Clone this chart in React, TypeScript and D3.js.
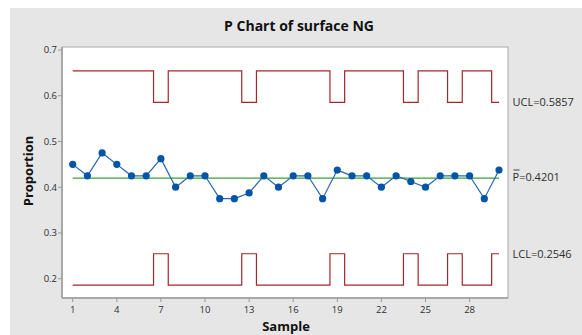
import React from "react";
import * as d3 from "d3";

const samples = d3.range(1, 31);
const proportions = [
  0.45, 0.425, 0.475, 0.45, 0.425, 0.425, 0.4625, 0.4, 0.425, 0.425,
  0.375, 0.375, 0.3875, 0.425, 0.4, 0.425, 0.425, 0.375, 0.4375, 0.425,
  0.425, 0.4, 0.425, 0.4125, 0.4, 0.425, 0.425, 0.425, 0.375, 0.4375,
];
const uclValues = [
  0.6542, 0.6542, 0.6542, 0.6542, 0.6542, 0.6542, 0.5857, 0.6542, 0.6542, 0.6542,
  0.6542, 0.6542, 0.5857, 0.6542, 0.6542, 0.6542, 0.6542, 0.6542, 0.5857, 0.6542,
  0.6542, 0.6542, 0.6542, 0.5857, 0.6542, 0.6542, 0.5857, 0.6542, 0.6542, 0.5857,
];
const lclValues = [
  0.186, 0.186, 0.186, 0.186, 0.186, 0.186, 0.2546, 0.186, 0.186, 0.186,
  0.186, 0.186, 0.2546, 0.186, 0.186, 0.186, 0.186, 0.186, 0.2546, 0.186,
  0.186, 0.186, 0.186, 0.2546, 0.186, 0.186, 0.2546, 0.186, 0.186, 0.2546,
];
const pBar = 0.4201;
const xTicks = [1, 4, 7, 10, 13, 16, 19, 22, 25, 28];
const yTicks = [0.2, 0.3, 0.4, 0.5, 0.6, 0.7];
const title = "P Chart of surface NG";
const uclLabel = "UCL=0.5857";
const pLabel = "=0.4201";
const lclLabel = "LCL=0.2546";

const W = 582;
const H = 335;
const plot = { left: 62, right: 508, top: 47, bottom: 298 };
const FONT = "'Open Sans', 'DejaVu Sans', sans-serif";

export default function App() {
  const x = d3
    .scaleLinear()
    .domain([1 - 10.7 / 14.7, 1 + (plot.right - 72.7) / 14.7])
    .range([plot.left, plot.right]);
  const y = d3.scaleLinear().domain([0.2, 0.7]).range([278.7, 50]);

  const stepLine = d3
    .line<number>()
    .x((_, i) => x(samples[i]))
    .y((d) => y(d))
    .curve(d3.curveStep);
  const dataLine = d3
    .line<number>()
    .x((_, i) => x(samples[i]))
    .y((d) => y(d));

  const red = "#a3262b";
  const tickColor = "#2e2e2e";

  return (
    <svg
      width={W}
      height={H}
      style={{ position: "absolute", left: 0, top: 0 }}
      fontFamily={FONT}
    >
      <rect x={0} y={0} width={W} height={H} fill="#fff" />
      <rect x={10} y={8} width={W - 10} height={H - 8} fill="#e6e6e6" />
      <rect
        x={plot.left}
        y={plot.top}
        width={plot.right - plot.left}
        height={plot.bottom - plot.top}
        fill="#fff"
        stroke="#a8a8a8"
        strokeWidth={1}
      />
      <line x1={plot.left} x2={plot.left} y1={plot.top} y2={plot.bottom} stroke="#a8a8a8" strokeWidth={2} />
      <line x1={plot.left} x2={plot.right} y1={plot.bottom} y2={plot.bottom} stroke="#a8a8a8" strokeWidth={2} />

      {/* title */}
      <text x={299} y={30.5} textAnchor="middle" fontSize={14} fontWeight="bold" fill="#111">
        {title}
      </text>

      {/* y ticks */}
      {yTicks.map((t) => (
        <g key={"y" + t}>
          <line x1={plot.left - 4} x2={plot.left} y1={y(t)} y2={y(t)} stroke="#999" />
          <text x={plot.left - 5} y={y(t) + 3.3} textAnchor="end" fontSize={9.5} fill={tickColor}>
            {t.toFixed(1)}
          </text>
        </g>
      ))}
      {/* x ticks */}
      {xTicks.map((t) => (
        <g key={"x" + t}>
          <line x1={x(t)} x2={x(t)} y1={plot.bottom} y2={plot.bottom + 4} stroke="#999" />
          <text x={x(t)} y={313} textAnchor="middle" fontSize={9.5} fill={tickColor}>
            {t}
          </text>
        </g>
      ))}

      {/* axis titles */}
      <text
        transform={`translate(32.5,171) rotate(-90)`}
        textAnchor="middle"
        fontSize={13}
        fontWeight="bold"
        fill="#111"
      >
        Proportion
      </text>
      <text x={286} y={330.5} textAnchor="middle" fontSize={13} fontWeight="bold" fill="#111">
        Sample
      </text>

      {/* control limits */}
      <path d={stepLine(uclValues) || ""} fill="none" stroke={red} strokeWidth={1.2} />
      <path d={stepLine(lclValues) || ""} fill="none" stroke={red} strokeWidth={1.2} />
      <line
        x1={x(samples[0])}
        x2={x(samples[samples.length - 1])}
        y1={y(pBar)}
        y2={y(pBar)}
        stroke="#33a532"
        strokeWidth={1.2}
      />

      {/* data */}
      <path d={dataLine(proportions) || ""} fill="none" stroke="#2a64b2" strokeWidth={1.2} />
      {proportions.map((p, i) => (
        <circle key={i} cx={x(samples[i])} cy={y(p)} r={3.6} fill="#0055a6" />
      ))}

      {/* right labels */}
      <text x={512.5} y={105.5} fontSize={11} fill={tickColor}>
        {uclLabel}
      </text>
      <text x={512.5} y={181} fontSize={11} fill={tickColor}>
        <tspan>P</tspan>
        <tspan>{pLabel}</tspan>
      </text>
      <line x1={513.5} x2={519.5} y1={170} y2={170} stroke={tickColor} strokeWidth={0.9} />
      <text x={512.5} y={257.5} fontSize={11} fill={tickColor}>
        {lclLabel}
      </text>
    </svg>
  );
}
